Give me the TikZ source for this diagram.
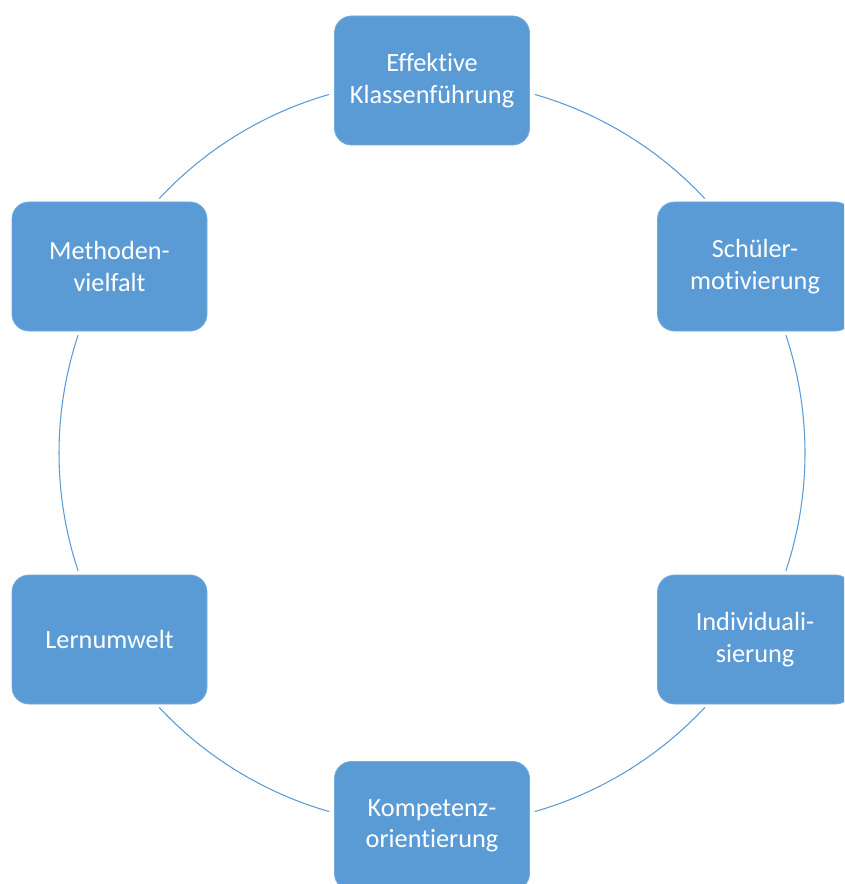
\documentclass[tikz,border=0pt]{standalone}
\usepackage{fontspec}
\setmainfont{Carlito}[Ligatures=NoCommon]
\usetikzlibrary{calc}
\definecolor{boxblue}{HTML}{5B9BD5}
\begin{document}
\begin{tikzpicture}[x=0.75pt,y=-0.75pt,
  topic/.style={draw=boxblue!85!white, line width=0.6pt, fill=boxblue, rounded corners=12.75pt,
    minimum width=146.25pt, minimum height=96.75pt, inner sep=0pt,
    text=white, align=center, font=\fontsize{19.7}{23.5}\selectfont},
  ring/.style={draw=boxblue, line width=0.8pt}]
  \useasboundingbox (0,0) rectangle (844,884);
  \clip (0,0) rectangle (844,884);
  \coordinate (c) at (432,453);
  % ring segments between the topics (angles counted with y pointing up)
  \foreach \a/\b in {106/137, 43/74, -18.4/18.4, -43/-74, -106/-137, 161.6/198.4}
    \draw[ring] ($(c)+({cos(\a)*373},{-sin(\a)*373})$)
      arc[start angle=-\a, end angle=-\b, radius=373];
  % topics around the ring
  \node[topic] (klass)  at (432,80.5)  {Effektive\\Klassenführung};
  \node[topic] (motiv)  at (755,266.5) {Schüler-\\motivierung};
  \node[topic] (indiv)  at (755,639.5) {Individuali-\\sierung};
  \node[topic] (kompet) at (432,826)   {Kompetenz-\\orientierung};
  \node[topic] (umwelt) at (109.5,639.5) {Lernumwelt};
  \node[topic] (method) at (109.5,266.5) {Methoden-\\vielfalt};
\end{tikzpicture}
\end{document}
